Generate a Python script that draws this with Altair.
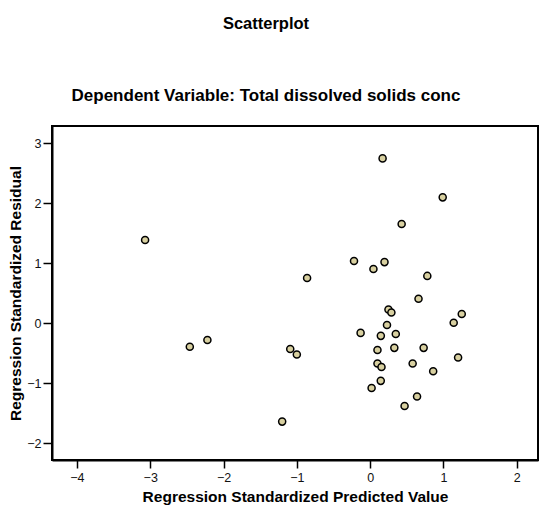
import altair as alt
import pandas as pd

# Standardized predicted values (x) and standardized residuals (y)
predicted = [
    -3.07, -2.46, -2.22, -1.20, -1.09, -1.00, -0.86, -0.22, 0.045, 0.17,
    0.99, 0.43, 0.196, 0.78, 0.66, 0.25, 0.29, 1.25, 1.14, -0.13,
    0.23, 0.146, 0.35, 0.10, 0.33, 0.73, 1.20, 0.10, 0.155, 0.58,
    0.86, 0.145, 0.02, 0.64, 0.47,
]
residual = [
    1.39, -0.39, -0.28, -1.64, -0.43, -0.52, 0.755, 1.04, 0.905, 2.75,
    2.10, 1.655, 1.02, 0.79, 0.41, 0.23, 0.18, 0.155, 0.01, -0.16,
    -0.03, -0.21, -0.18, -0.445, -0.41, -0.41, -0.57, -0.67, -0.73, -0.67,
    -0.80, -0.96, -1.08, -1.22, -1.38,
]

x_ticks = [-4, -3, -2, -1, 0, 1, 2]
y_ticks = [-2, -1, 0, 1, 2, 3]

df = pd.DataFrame({"pred": predicted, "resid": residual})

FONT = "Liberation Sans"

chart = (
    alt.Chart(df)
    .mark_point(
        filled=True,
        shape="circle",
        size=50,
        fill="#D8D0A0",
        stroke="black",
        strokeWidth=1.5,
        opacity=1,
    )
    .encode(
        x=alt.X(
            "pred:Q",
            scale=alt.Scale(domain=[-4.34, 2.29], nice=False, zero=False),
            axis=alt.Axis(
                title="Regression Standardized Predicted Value",
                values=x_ticks,
                grid=False,
                tickSize=8,
                tickColor="black",
                tickWidth=1.5,
                domainColor="black",
                domainWidth=2,
                labelFont=FONT,
                labelFontSize=12.5,
                labelColor="#111111",
                labelPadding=3,
                titleFont=FONT,
                titleFontSize=15.5,
                titleFontWeight="bold",
                titleColor="black",
                titlePadding=6,
            ),
        ),
        y=alt.Y(
            "resid:Q",
            scale=alt.Scale(domain=[-2.28, 3.29], nice=False, zero=False),
            axis=alt.Axis(
                title="Regression Standardized Residual",
                values=y_ticks,
                grid=False,
                tickSize=9,
                tickColor="black",
                tickWidth=1.5,
                domainColor="black",
                domainWidth=2,
                labelFont=FONT,
                labelFontSize=12.5,
                labelColor="#111111",
                labelPadding=2,
                titleFont=FONT,
                titleFontSize=15.5,
                titleFontWeight="bold",
                titleColor="black",
                titlePadding=3,
            ),
        ),
    )
    .properties(
        width=486,
        height=334,
        view=alt.ViewBackground(stroke="#000000", strokeWidth=2, strokeOpacity=1, fill="white"),
        title=alt.TitleParams(
            text="Scatterplot",
            subtitle="Dependent Variable: Total dissolved solids conc",
            anchor="middle",
            dx=-29,
            offset=22,
            font=FONT,
            fontSize=16.5,
            fontWeight="bold",
            color="black",
            subtitleFont=FONT,
            subtitleFontSize=17,
            subtitleFontWeight="bold",
            subtitleColor="black",
            subtitlePadding=56,
        ),
        autosize=alt.AutoSizeParams(type="none"),
        padding={"left": 52, "top": 126, "right": 1, "bottom": 48},
    )
    .configure_view(stroke="#000000", strokeWidth=2, strokeOpacity=1, fill="white")
    .configure(background="white")
)

chart.save("out.html", embed_options={"renderer": "svg", "actions": False})
